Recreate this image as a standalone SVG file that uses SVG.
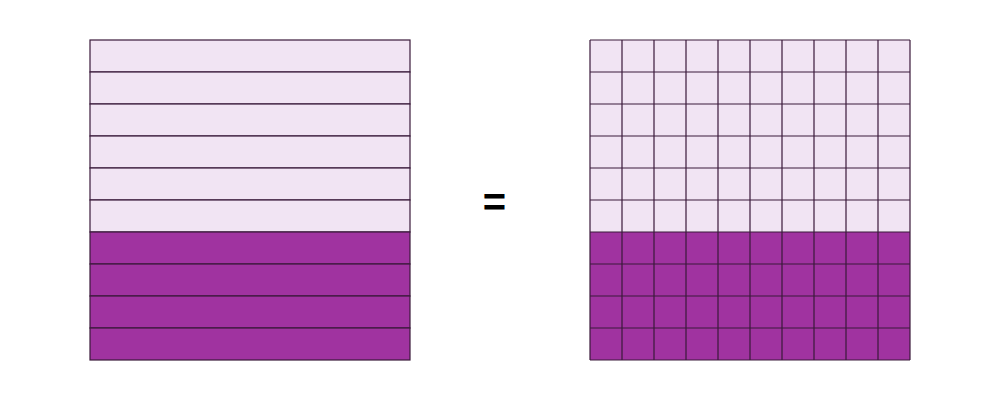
<svg xmlns="http://www.w3.org/2000/svg" width="1000" height="400" viewBox="0 0 1000 400">
<style>
.l{fill:#f1e4f3;stroke:#3a1a3a;stroke-width:1.2}
.d{fill:#a033a0;stroke:#3a1a3a;stroke-width:1.2}
.t{font-family:"Liberation Sans",Arial,sans-serif;font-size:40px;font-weight:bold;fill:#000}
</style>
<g id="left">
<rect class="l" x="90" y="40" width="320" height="32"/>
<rect class="l" x="90" y="72" width="320" height="32"/>
<rect class="l" x="90" y="104" width="320" height="32"/>
<rect class="l" x="90" y="136" width="320" height="32"/>
<rect class="l" x="90" y="168" width="320" height="32"/>
<rect class="l" x="90" y="200" width="320" height="32"/>
<rect class="d" x="90" y="232" width="320" height="32"/>
<rect class="d" x="90" y="264" width="320" height="32"/>
<rect class="d" x="90" y="296" width="320" height="32"/>
<rect class="d" x="90" y="328" width="320" height="32"/>
</g>
<g id="equals"><text class="t" x="494.5" y="216" text-anchor="middle">=</text></g>
<g id="right">
<rect fill="#f1e4f3" x="590" y="40" width="320" height="192"/>
<rect fill="#a033a0" x="590" y="232" width="320" height="128"/>
<path d="M590 40V360M622 40V360M654 40V360M686 40V360M718 40V360M750 40V360M782 40V360M814 40V360M846 40V360M878 40V360M910 40V360M590 40H910M590 72H910M590 104H910M590 136H910M590 168H910M590 200H910M590 232H910M590 264H910M590 296H910M590 328H910M590 360H910" stroke="#3a1a3a" stroke-width="1.2" fill="none"/>
</g>
</svg>
